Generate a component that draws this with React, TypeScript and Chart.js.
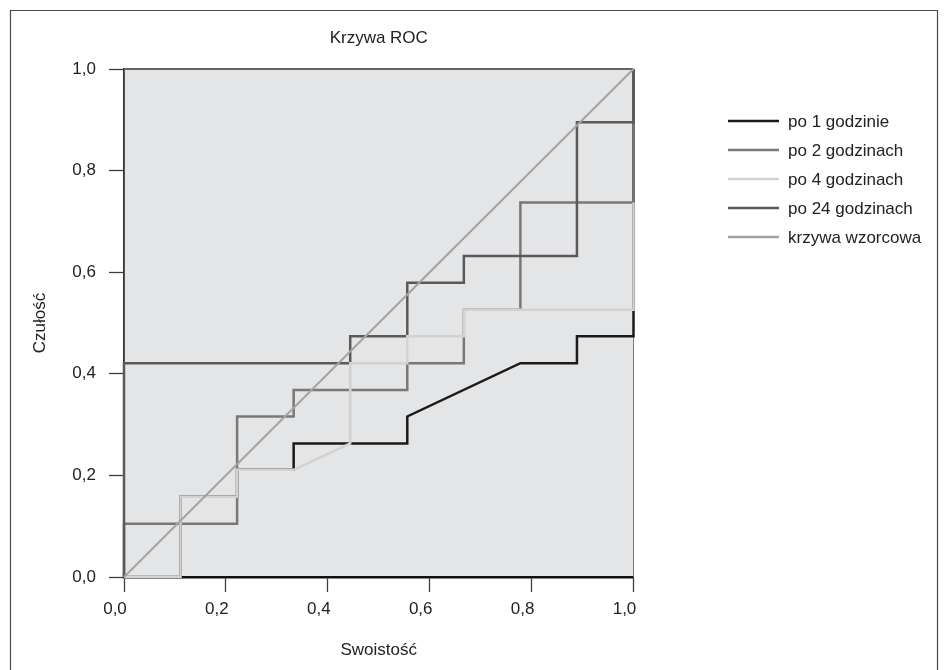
import React, { useEffect, useRef } from "react";
import { Chart, registerables } from "chart.js";

Chart.register(...registerables);

const TITLE = "Krzywa ROC";
const X_TITLE = "Swoistość";
const Y_TITLE = "Czułość";

const seriesLabels = ["po 1 godzinie", "po 2 godzinach", "po 4 godzinach", "po 24 godzinach", "krzywa wzorcowa"];
const seriesColors = ["#1a1a1a", "#787878", "#d2d2d2", "#595959", "#a3a3a3"];

const po1X = [0, 0.111, 0.111, 0.222, 0.222, 0.333, 0.333, 0.556, 0.556, 0.778, 0.889, 0.889, 1, 1, 1];
const po1Y = [0, 0, 0.158, 0.158, 0.211, 0.211, 0.263, 0.263, 0.316, 0.421, 0.421, 0.474, 0.474, 0.526, 1];

const po2X = [0, 0, 0.222, 0.222, 0.333, 0.333, 0.556, 0.556, 0.667, 0.667, 0.778, 0.778, 1, 1];
const po2Y = [0, 0.105, 0.105, 0.316, 0.316, 0.368, 0.368, 0.421, 0.421, 0.526, 0.526, 0.737, 0.737, 1];

const po4X = [0, 0.111, 0.111, 0.222, 0.222, 0.333, 0.444, 0.444, 0.556, 0.556, 0.667, 0.667, 1, 1];
const po4Y = [0, 0, 0.158, 0.158, 0.211, 0.211, 0.263, 0.421, 0.421, 0.474, 0.474, 0.526, 0.526, 0.737];

const po24X = [0, 0, 0.444, 0.444, 0.556, 0.556, 0.667, 0.667, 0.889, 0.889, 1, 1];
const po24Y = [0, 0.421, 0.421, 0.474, 0.474, 0.579, 0.579, 0.632, 0.632, 0.895, 0.895, 1];

const refX = [0, 1];
const refY = [0, 1];

const tickValues = [0, 0.2, 0.4, 0.6, 0.8, 1.0];

const FONT = '"Liberation Sans", Arial, sans-serif';

const toPoints = (xs: number[], ys: number[]) => xs.map((x, i) => ({ x, y: ys[i] }));
const fmt = (v: number) => v.toFixed(1).replace(".", ",");

const framePlugin = {
  id: "frame",
  beforeDraw(chart: any) {
    const { ctx, chartArea } = chart;
    ctx.save();
    ctx.fillStyle = "#ffffff";
    ctx.fillRect(0, 0, chart.width, chart.height);
    ctx.strokeStyle = "#4a4a4a";
    ctx.lineWidth = 1.2;
    ctx.beginPath();
    ctx.moveTo(10.5, 700);
    ctx.lineTo(10.5, 10.5);
    ctx.lineTo(937.5, 10.5);
    ctx.lineTo(937.5, 700);
    ctx.stroke();
    ctx.fillStyle = "#e4e5e7";
    ctx.fillRect(chartArea.left, chartArea.top, chartArea.right - chartArea.left, chartArea.bottom - chartArea.top);
    ctx.restore();
  },
  beforeDatasetsDraw(chart: any) {
    const { ctx, chartArea } = chart;
    ctx.save();
    ctx.strokeStyle = "#666666";
    ctx.lineWidth = 2;
    ctx.beginPath();
    ctx.moveTo(chartArea.left, chartArea.top);
    ctx.lineTo(chartArea.right, chartArea.top);
    ctx.stroke();
    ctx.strokeStyle = "#7a7a7a";
    ctx.lineWidth = 1;
    ctx.beginPath();
    ctx.moveTo(chartArea.right, chartArea.top);
    ctx.lineTo(chartArea.right, chartArea.bottom);
    ctx.stroke();
    ctx.restore();
  },
  afterDraw(chart: any) {
    const { ctx } = chart;
    ctx.save();
    chart.data.datasets.forEach((ds: any, i: number) => {
      const y = 121 + i * 29;
      ctx.strokeStyle = ds.borderColor;
      ctx.lineWidth = 2.5;
      ctx.beginPath();
      ctx.moveTo(728, y);
      ctx.lineTo(779, y);
      ctx.stroke();
      ctx.fillStyle = "#222222";
      ctx.font = `17px ${FONT}`;
      ctx.textBaseline = "middle";
      ctx.textAlign = "left";
      ctx.fillText(ds.label, 788, y + 1);
    });
    ctx.restore();
  },
};

export default function App() {
  const ref = useRef<HTMLCanvasElement | null>(null);

  useEffect(() => {
    if (!ref.current) return;
    const series = [
      toPoints(po1X, po1Y),
      toPoints(po2X, po2Y),
      toPoints(po4X, po4Y),
      toPoints(po24X, po24Y),
      toPoints(refX, refY),
    ];
    const drawOrder = [5, 4, 2, 3, 1];
    const chart = new Chart(ref.current, {
      type: "scatter",
      data: {
        datasets: series.map((data, i) => ({
          label: seriesLabels[i],
          data,
          showLine: true,
          borderColor: seriesColors[i],
          backgroundColor: seriesColors[i],
          borderWidth: i === 4 ? 2 : 2.5,
          pointRadius: 0,
          pointHoverRadius: 0,
          tension: 0,
          fill: false,
          clip: false as any,
          order: drawOrder[i],
          borderJoinStyle: "miter" as const,
          borderCapStyle: "butt" as const,
        })),
      },
      options: {
        animation: false,
        responsive: false,
        layout: { padding: { left: 0, top: 0, right: 314.5, bottom: 0 } },
        plugins: {
          legend: { display: false },
          tooltip: { enabled: false },
          title: {
            display: true,
            text: TITLE,
            fullSize: false,
            color: "#222222",
            font: { family: FONT, size: 17, weight: "normal" },
            padding: { top: 28.3, bottom: 20.3 },
          },
        },
        scales: {
          x: {
            type: "linear",
            min: 0,
            max: 1,
            afterFit: (s: any) => {
              s.height = 93;
            },
            afterBuildTicks: (s: any) => {
              s.ticks = tickValues.map((v) => ({ value: v }));
            },
            ticks: {
              callback: (v: any) => fmt(Number(v)),
              color: "#222222",
              font: { family: FONT, size: 17 },
              padding: 7,
              labelOffset: -9,
              maxRotation: 0,
            },
            grid: {
              drawOnChartArea: false,
              drawTicks: true,
              tickLength: 15,
              tickColor: "#3c3c3c",
              tickWidth: 1.3,
              color: "#3c3c3c",
            },
            border: { display: true, color: "#111111", width: 2.5 },
            title: {
              display: true,
              text: X_TITLE,
              color: "#222222",
              font: { family: FONT, size: 17 },
              padding: { top: 0, bottom: 9.8 },
            },
          },
          y: {
            type: "linear",
            min: 0,
            max: 1,
            afterFit: (s: any) => {
              s.width = 124;
            },
            afterBuildTicks: (s: any) => {
              s.ticks = tickValues.map((v) => ({ value: v }));
            },
            ticks: {
              callback: (v: any) => fmt(Number(v)),
              color: "#222222",
              font: { family: FONT, size: 17 },
              padding: 13,
            },
            grid: {
              drawOnChartArea: false,
              drawTicks: true,
              tickLength: 15,
              tickColor: "#3c3c3c",
              tickWidth: 1.3,
              color: "#3c3c3c",
            },
            border: { display: true, color: "#333333", width: 1.8 },
            title: {
              display: true,
              text: Y_TITLE,
              color: "#222222",
              font: { family: FONT, size: 17 },
              padding: { top: 29.8, bottom: 0 },
            },
          },
        },
      },
      plugins: [framePlugin],
    });
    return () => chart.destroy();
  }, []);

  return (
    <div style={{ position: "absolute", left: 0, top: 0, width: 948, height: 670, background: "#fff" }}>
      <canvas ref={ref} width={948} height={670} style={{ display: "block", width: 948, height: 670 }} />
    </div>
  );
}
